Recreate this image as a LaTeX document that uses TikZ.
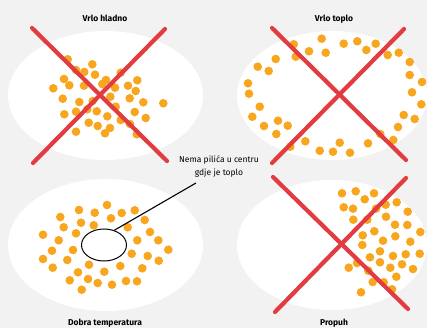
\documentclass[tikz,border=0pt]{standalone}
\usepackage{fontspec}
\setmainfont{Fira Sans}
\usetikzlibrary{shapes.geometric}
\definecolor{bg}{HTML}{F2F2F2}
\definecolor{dotc}{RGB}{247,166,30}
\definecolor{xred}{RGB}{226,59,64}
\begin{document}
\begin{tikzpicture}[x=1pt,y=-1pt,
  dot/.style={fill=dotc},
  xstroke/.style={draw=xred,line width=4.2pt,line cap=round},
  title/.style={font=\bfseries\fontsize{8.5}{10}\selectfont,anchor=base,inner sep=0pt},
  note/.style={font=\fontsize{8.5}{12.5}\selectfont,align=center,anchor=north,inner sep=0pt}]
\fill[bg] (0,0) rectangle (427,328);
\useasboundingbox (0,0) rectangle (427,328);
% white ellipses
\fill[white] (105.5,95.5) ellipse [x radius=97.5pt, y radius=64.5pt];
\fill[white] (332,95.5) ellipse [x radius=95pt, y radius=64.5pt];
\fill[white] (105.5,245) ellipse [x radius=97.5pt, y radius=66pt];
\fill[white] (332,245) ellipse [x radius=95pt, y radius=65pt];
% dots top-left
\foreach \x/\y in {67.7/59.3,92.3/64.3,64/79,69.3/85.3,84.3/72,95/74.7,53.3/88.3,84/85.7,106/80,102.3/84,115/87.7,120.7/72.7,128/85.7,137.3/80.3,135.7/91,62.7/98.7,79.3/102,92.7/101,110.3/96.7,129.7/98.3,143.3/102.3,163.3/103.3,64.3/114.3,76/111.7,87.3/109.3,96.7/111.3,107.3/116.3,115.7/106.7,134.7/112,145.7/118,88.7/122.7,97.7/126,110/128,105/133.3,120.7/120,130/124,76/131.7,136.7/134.3,76/70}
  \fill[dot] (\x,\y) circle (4.3pt);
% dots top-right
\foreach \x/\y in {293.7/44.3,321.7/38.7,343.7/43.7,357.3/41.3,375.7/43.7,366.3/50,309/51.3,325.7/52.7,295.7/56.7,387.7/55,398.7/52.7,275.7/59,257.7/66.7,268.7/71,409.7/62,248/83.3,249/93.7,409.7/75,422/82,412/92.3,259.7/106.7,421.3/104.3,252.3/116.7,403.7/115,414.7/119,264/126,278/120.7,287.7/125.7,276.3/134,398/127,380.3/134,393.3/140,290.3/146.7,305.3/141.3,319.7/150.7,333/151.7,339.7/142.7,350/152.7,368/143.3}
  \fill[dot] (\x,\y) circle (4.3pt);
% dots bottom-left
\foreach \x/\y in {107/205,79/210,94.7/212.7,121.7/213,134.7/210.3,60.3/217,111/218.3,81/222.7,144.7/220,63.7/227.3,93.7/225.3,127.7/227.3,43/234.7,76/233.3,150/232,58.7/240.3,137.3/240.3,158.3/240.3,52/250.7,73/250,168.3/249.7,131.7/253.7,147.7/256,43/259,67.3/260,158.7/260.7,52.7/267.7,89/264.7,120.3/266,142.3/268.3,78/272.3,104.3/271.7,88/279,69.7/280.3,97.7/283,112/284.7,126/281,137/281.3,81.7/289.7}
  \fill[dot] (\x,\y) circle (4.3pt);
% dots bottom-right
\foreach \x/\y in {342/193.3,355.7/191.3,374/193.3,364.7/199.3,343.7/207.3,353/208.7,385.7/204.7,396.7/202.3,376/208.7,407.7/211.7,353.3/219.7,367.3/219.7,386/216.7,395/224.7,407.3/225,374.3/231.3,362.7/235.3,420.3/232,395.3/236.3,383/240.7,410.3/241.7,362.3/245,380/251.3,370/257.3,393/256,405.7/254.3,419.7/253.7,380/262.3,357/263,402/264.3,413/269,348.7/267.7,390.3/267.7,368.3/270.7,396.3/276.7,372.7/282,383.7/282.3,392/289.3,361/292.3}
  \fill[dot] (\x,\y) circle (4.3pt);
% red crosses
\draw[xstroke] (32,28) -- (167,161);
\draw[xstroke] (165,29) -- (33,163);
\draw[xstroke] (272,28) -- (406,160);
\draw[xstroke] (404,29) -- (272,163);
\draw[xstroke] (273,177) -- (408,309);
\draw[xstroke] (406,178) -- (275,312);
% titles
\node[title] (t1) at (105,22) {Vrlo hladno};
\node[title] (t2) at (334,22) {Vrlo toplo};
\node[title] (t3) at (105,325.5) {Dobra temperatura};
\node[title] (t4) at (334,325.5) {Propuh};
% note
\node[note] (note) at (219,155.5) {Nema pilića u centru\\gdje je toplo};
\node[draw,ellipse,line width=1pt,minimum width=45pt,minimum height=32pt,inner sep=0pt] (hole) at (104,245) {};
\coordinate (lead) at (196,183);
\draw[line width=1.1pt] (lead) -- (hole.55);
\end{tikzpicture}
\end{document}
